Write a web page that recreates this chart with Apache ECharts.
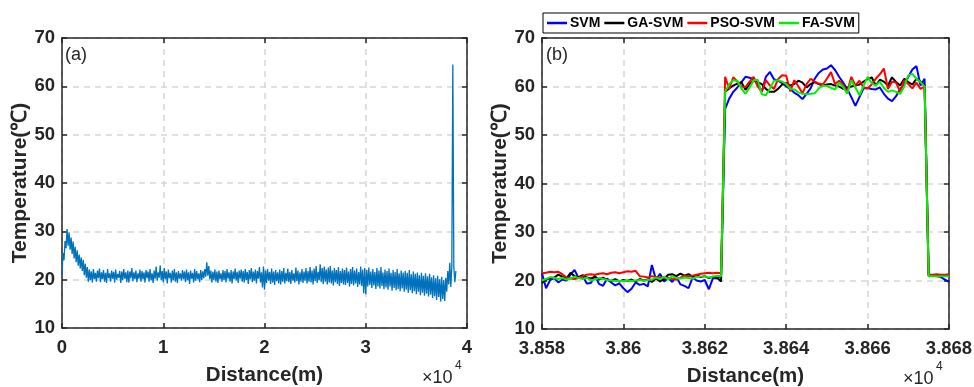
<!DOCTYPE html>
<html><head><meta charset="utf-8">
<script src="https://cdn.jsdelivr.net/npm/echarts@6/dist/echarts.min.js"></script>
<style>html,body{margin:0;padding:0;background:#fff}#c{width:974px;height:387px}</style>
</head><body><div id="c"></div>
<script>
const FONT = "'Liberation Sans', Arial, Helvetica, sans-serif";

// ---------- Panel (a): full fibre, sampled every 100 m ----------
const aStart = 0, aStep = 100;
const aTemp = [
21,25.5,24,28,26.5,30.5,27,29.8,26.2,28.7,25.3,27.9,24.4,26.8,23.6,26.1,22.9,25.2,22.3,24.6,
21.8,24.1,20.9,23.3,20.4,22.6,19.6,22.1,19.9,21.7,19.4,22.2,20.1,21.4,19.6,21.9,20.3,22.3,19.5,21.5,
20.1,22,19.6,21.4,19.3,22.2,20.3,21.3,19.6,21.9,20.2,21.6,19.4,22.1,20,21.2,20.4,21.8,19.3,21.7,
19.9,22.2,20.2,21.5,19.5,21.9,19.4,21.7,20.3,22.4,19.7,21.5,20.1,21.9,19.5,21.3,20.2,22.1,19.6,21.8,
20.1,21.5,19.4,22,20.3,21.7,19.6,22.2,19.9,21.3,19.3,21.9,20.2,22.7,19.8,21.5,20.4,22.9,19.9,21.8,
19.5,22.4,20.1,21.7,19.2,22.1,20.3,21.4,19.4,21.9,19.9,22.2,19.6,21.5,19.3,21.8,20.2,21.3,19.8,22,
20.1,21.7,19.5,22.1,19.9,21.5,19.1,21.9,20.2,21.4,19.4,22.2,19.8,21.8,20.1,21.3,19.5,22,19.9,21.7,
20.3,22.2,20.6,23.6,20.8,22.8,20.1,21.9,19.4,21.6,19.9,22.1,19.6,21.7,19.3,21.9,20.1,21.3,19.6,22,
19.9,21.8,19.4,22.2,20.2,21.5,19.6,22,19.2,21.7,20.1,22.3,19.8,21.6,19.3,21.9,20.2,22.1,19.6,21.8,
19.4,22.2,19.9,21.6,19.1,22,20.1,22.4,19.5,21.7,19.8,22.1,19.2,21.8,20.2,22.6,19.4,21.5,18.4,22.7,
17.9,21.9,19.3,22.2,19.8,21.6,19.1,22.3,19.4,21.7,18.9,22,19.7,21.5,19.2,22.1,19,21.8,19.6,22.4,
19.2,21.4,19.7,22.3,19.5,21.6,19.1,22,19.8,21.3,19.4,22.5,19.7,21.9,19,21.5,19.6,22.2,19.3,21.7,
19.8,22.4,19.2,21.8,19.6,22.6,19.4,21.9,19,22.3,19.7,22.8,19.3,21.6,19.9,23.2,19.5,22.4,19.1,22.7,
19.6,22.1,19,22.5,19.4,22.8,19.2,21.9,18.8,22.4,19.5,22,19.1,22.6,18.7,21.8,19.3,22.3,19,22,
18.9,22.5,19.3,21.7,18.6,22.2,19.1,22.6,18.8,21.9,19.2,22.3,18.5,21.6,19,22.7,18.7,22.1,17.2,22.4,
17,22,18.6,22.5,18.9,21.7,18.3,22.2,18.8,21.6,18.1,22.4,18.6,21.9,18.2,22.6,18.7,21.5,18,22.1,
18.4,21.8,17.9,22.3,18.6,21.4,17.7,22,18.3,21.6,17.8,22.2,18.1,21.3,17.6,21.9,18.2,21.5,17.5,21.8,
17.9,21.4,17.3,22,17.8,21.1,17.2,21.7,17.6,21.2,17,21.5,17.5,20.9,16.8,21.4,17.3,20.8,16.7,21.3,
17.1,20.7,16.5,21.2,16.9,20.5,16.2,20.9,16.6,20.3,15.8,20.8,16.4,20.1,15.5,20.6,16,19.9,15.6,20.4,
17.5,21.8,19,23.5,18.5,22.8,64.5,22.5,19.5,21.8
];

// ---------- Panel (b): hot-spot zoom, sampled every 1 m ----------
const bStart = 38580, bStep = 1;
const seriesNames = ['SVM', 'GA-SVM', 'PSO-SVM', 'FA-SVM'];
const svm = [
21.5,18.4,20.1,20.5,19.6,20.2,20.0,21.2,22.2,20.5,20.9,19.4,19.5,21.0,19.3,18.9,20.4,19.6,19.0,19.4,
18.4,17.6,18.3,19.6,19.1,19.3,18.8,23.2,20.2,21.4,19.8,20.5,19.7,20.8,19.2,18.9,18.4,20.6,20.0,19.8,
20.1,18.2,20.5,20.4,21.0,
55.4,57.5,58.9,59.8,60.9,62.0,61.8,61.5,60.5,58.9,62.0,63.0,61.5,61.2,60.7,60.0,59.5,58.7,58.2,57.4,
58.5,59.6,61.6,62.8,63.5,63.7,64.4,63.4,62.0,60.8,59.5,57.8,56.0,57.8,59.6,59.7,59.5,59.4,59.8,58.5,
57.5,57.0,58.0,59.5,60.4,62.0,63.5,64.2,60.2,61.6,
21.1,21.0,20.9,20.7,20.2,19.7
];
const gaSvm = [
19.5,20.2,20.5,20.6,21.2,20.8,20.4,21.6,20.9,20.7,21.1,20.6,20.4,20.8,20.2,20.6,20.1,19.9,20.3,19.8,
20.1,19.9,20.2,19.8,20.3,20.0,20.2,19.7,20.4,19.8,20.3,21.2,21.3,20.9,21.4,21.0,21.3,20.8,21.1,20.7,
20.9,20.5,20.8,20.6,19.8,
58.9,59.6,60.2,60.6,60.9,59.3,60.5,61.2,60.9,60.5,59.5,58.9,58.9,59.5,60.4,60.7,60.2,60.5,61.2,60.8,
59.8,60.5,60.9,60.5,60.2,60.4,60.5,60.2,60.0,59.5,59.8,60.0,60.2,60.4,61.0,61.5,61.9,60.2,61.4,61.0,
60.2,61.9,60.9,60.2,61.6,60.9,60.4,61.6,61.0,60.2,
21.0,21.0,21.1,21.0,21.1,21.0
];
const psoSvm = [
21.5,21.6,21.8,21.7,21.8,21.3,20.6,20.4,20.3,20.5,20.9,21.2,21.3,21.2,21.4,21.5,21.3,21.6,21.7,21.5,
21.7,21.9,21.8,22.0,20.9,20.8,20.6,20.9,20.7,20.6,20.5,20.6,20.3,20.2,20.6,21.0,20.8,21.0,21.2,21.4,
21.5,21.6,21.5,21.6,21.5,
62.0,59.5,61.9,61.0,60.0,59.9,61.0,62.0,60.0,58.9,61.3,60.2,59.5,61.5,62.3,62.2,59.0,61.3,60.0,58.6,
60.5,61.6,61.0,60.6,60.4,61.6,63.0,60.5,61.2,60.3,58.9,62.0,60.2,61.2,59.8,59.6,60.4,61.6,62.5,63.7,
59.5,61.0,60.8,58.9,61.3,60.5,59.6,60.8,59.5,60.0,
21.2,21.2,21.3,21.2,21.2,21.3
];
const faSvm = [
20.0,20.3,20.7,20.5,20.3,20.6,20.2,20.4,20.8,20.5,20.3,20.6,20.0,20.2,20.5,20.3,20.1,20.0,19.9,19.9,
19.9,20.0,19.9,20.0,20.1,20.0,20.1,20.2,20.6,20.3,20.8,20.2,20.9,20.5,20.4,20.6,20.5,20.4,20.7,20.8,
20.9,20.6,20.8,21.0,20.9,
58.9,60.5,61.3,61.2,59.6,58.5,59.8,61.3,61.4,58.4,58.2,59.6,61.2,61.3,61.0,60.5,59.5,59.4,58.8,58.5,
58.4,58.5,58.6,59.6,60.2,60.1,59.7,59.4,60.8,59.9,58.5,61.3,59.8,58.2,60.1,62.0,60.7,60.2,61.0,59.7,
58.9,59.2,58.9,58.5,60.0,62.3,62.6,61.6,60.9,60.0,
20.9,20.9,20.9,20.9,20.9,20.9
];
const seriesColors = ['#0000ff', '#000000', '#ff0000', '#00f000'];

// ---------- axes ----------
const yMin = 10, yMax = 70, yInterval = 10;
const aXMin = 0, aXMax = 40000, aXInterval = 10000;
const bXMin = 38580, bXMax = 38680, bXInterval = 20;

const toPairs = (arr, start, step) => arr.map((v, i) => [start + i * step, v]);

const AX = '#262626';
const lineAx = { show: true, onZero: false, lineStyle: { color: AX, width: 1.5 } };
const tickAx = { show: true, inside: true, length: 5, lineStyle: { color: AX, width: 1.5 } };
const splitAx = { show: true, lineStyle: { color: '#d6d6d6', width: 1.5, type: [6, 5] } };
const labelAx = { fontFamily: FONT, fontWeight: 'bold', fontSize: 18.5, color: AX };
const fmtX = v => String(parseFloat((v / 10000).toFixed(4)));

function xMain(grid, min, max, interval) {
  return { type: 'value', gridIndex: grid, min, max, interval, position: 'bottom',
    axisLine: lineAx, axisTick: tickAx, splitLine: splitAx,
    axisLabel: Object.assign({ margin: 10, formatter: fmtX, showMaxLabel: true }, labelAx),
    name: 'Distance(m)', nameLocation: 'middle', nameGap: 37,
    nameTextStyle: { fontFamily: FONT, fontWeight: 'bold', fontSize: 20.5, color: AX } };
}
function xTop(grid, min, max, interval) {
  return { type: 'value', gridIndex: grid, min, max, interval, position: 'top',
    axisLine: lineAx, axisTick: tickAx, splitLine: { show: false }, axisLabel: { show: false } };
}
function yMain(grid) {
  return { type: 'value', gridIndex: grid, min: yMin, max: yMax, interval: yInterval, position: 'left',
    axisLine: lineAx, axisTick: tickAx, splitLine: splitAx,
    axisLabel: Object.assign({ margin: 7 }, labelAx),
    name: 'Temperature(\u2103)', nameLocation: 'middle', nameGap: 29,
    nameTextStyle: { fontFamily: FONT, fontWeight: 'bold', fontSize: 21, color: AX } };
}
function yRight(grid) {
  return { type: 'value', gridIndex: grid, min: yMin, max: yMax, interval: yInterval, position: 'right',
    axisLine: lineAx, axisTick: tickAx, splitLine: { show: false }, axisLabel: { show: false } };
}

const bData = [svm, gaSvm, psoSvm, faSvm];

const option = {
  animation: false,
  backgroundColor: '#fff',
  grid: [
    { left: 62, right: 507, top: 38, bottom: 59, containLabel: false, outerBoundsMode: 'none' },
    { left: 542, right: 25, top: 38, bottom: 58, containLabel: false, outerBoundsMode: 'none' }
  ],
  xAxis: [ xMain(0, aXMin, aXMax, aXInterval), xTop(0, aXMin, aXMax, aXInterval),
           xMain(1, bXMin, bXMax, bXInterval), xTop(1, bXMin, bXMax, bXInterval) ],
  yAxis: [ yMain(0), yRight(0), yMain(1), yRight(1) ],
  legend: {
    data: seriesNames, left: 543, top: 13, orient: 'horizontal',
    icon: 'rect', itemWidth: 20, itemHeight: 2.5, itemGap: 4,
    padding: [3, 4], borderColor: '#000', borderWidth: 1, backgroundColor: '#fff',
    textStyle: { fontFamily: FONT, fontWeight: 'bold', fontSize: 14, color: '#000', padding: [0, 0, 0, -2] }
  },
  series: [
    { type: 'line', name: 'a', xAxisIndex: 0, yAxisIndex: 0, data: toPairs(aTemp, aStart, aStep),
      showSymbol: false, symbol: 'none', lineStyle: { color: '#0072BD', width: 1.3 }, z: 3 }
  ].concat(seriesNames.map((n, k) => ({
    type: 'line', name: n, xAxisIndex: 2, yAxisIndex: 2, data: toPairs(bData[k], bStart, bStep),
    showSymbol: false, symbol: 'none', color: seriesColors[k],
    lineStyle: { color: seriesColors[k], width: 2 }, itemStyle: { color: seriesColors[k] }, z: 3 + k
  }))),
  graphic: [
    { type: 'text', left: 65, top: 46, style: { text: '(a)', font: '18px ' + FONT, fill: '#262626' } },
    { type: 'text', left: 546, top: 46, style: { text: '(b)', font: '18px ' + FONT, fill: '#262626' } },
    { type: 'text', left: 422, top: 369, style: { text: '\u00d710', font: '18px ' + FONT, fill: '#262626' } },
    { type: 'text', left: 455, top: 360, style: { text: '4', font: '12px ' + FONT, fill: '#262626' } },
    { type: 'text', left: 903, top: 370, style: { text: '\u00d710', font: '18px ' + FONT, fill: '#262626' } },
    { type: 'text', left: 936, top: 361, style: { text: '4', font: '12px ' + FONT, fill: '#262626' } }
  ]
};

echarts.init(document.getElementById('c'), null, { renderer: 'canvas' }).setOption(option);
</script>
</body></html>
